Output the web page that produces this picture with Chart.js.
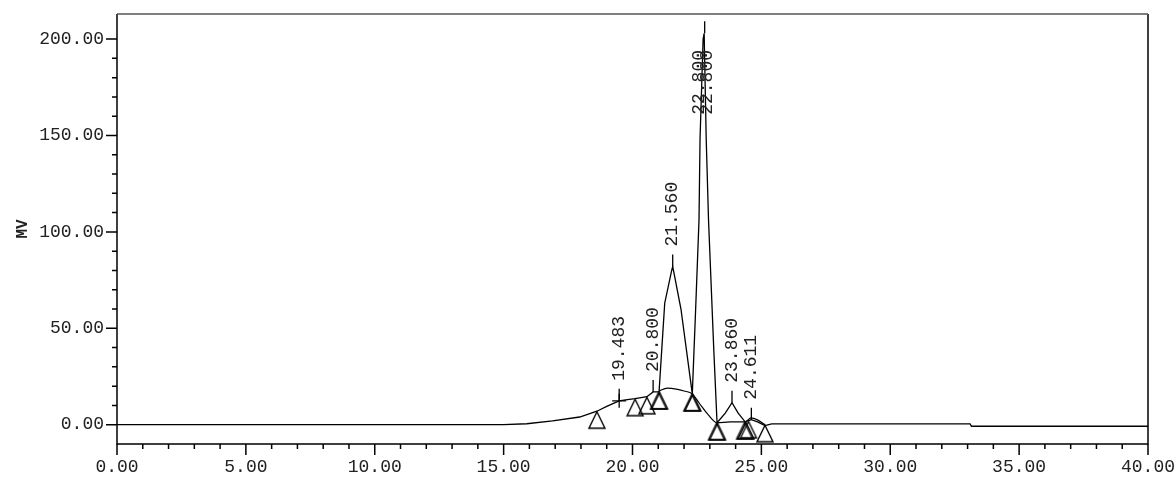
<!DOCTYPE html>
<html>
<head>
<meta charset="utf-8">
<script src="https://cdn.jsdelivr.net/npm/chart.js@4.4.0/dist/chart.umd.min.js"></script>
<style>
  html, body { margin: 0; padding: 0; background: #fff; }
  #wrap { width: 1176px; height: 477px; }
</style>
</head>
<body>
<div id="wrap"><canvas id="chromChart"></canvas></div>
<script>
  // detector trace, time in min, signal in mV
  const signalTime  = [0.00, 15.00, 15.90, 16.90, 17.95, 18.62, 19.00, 19.48, 19.80, 20.10, 20.56, 20.80, 21.03,
                       21.14, 21.25, 21.52, 21.56, 21.62, 21.88, 22.32, 22.45, 22.58, 22.62, 22.74, 22.78, 22.86,
                       22.95, 23.15, 23.28, 23.60, 23.86, 24.10, 24.37, 24.61, 24.85, 25.14, 25.40, 33.10, 33.15, 40.00];
  const signalValue = [0, 0, 0.5, 2.0, 4.0, 7.0, 9.5, 12.4, 13.0, 13.5, 14.5, 17.0, 17.0,
                       40, 63, 80, 82, 78, 60, 16, 60, 106, 148, 200, 203, 148,
                       106, 40, 1.0, 6.0, 11.4, 6.0, 1.5, 2.6, 1.5, -0.5, 0.4, 0.4, -0.8, -0.8];

  // baseline drawn under the merged peaks
  const baseTime  = [21.03, 21.35, 21.70, 22.00, 22.32, 22.60, 22.95, 23.28, 23.80, 24.37, 24.60, 24.85, 25.14];
  const baseValue = [17.5, 19.0, 18.5, 17.5, 16.0, 11.0, 5.0, 1.0, 1.5, 1.5, 3.5, 2.5, 0.0];

  // peak start / end marks
  const markTime  = [18.62, 20.10, 20.56, 21.01, 21.05, 22.30, 22.34, 23.26, 23.30, 24.35, 24.40, 24.50, 25.14];
  const markValue = [7.0, 13.5, 14.5, 17.0, 17.0, 16.0, 16.0, 1.0, 1.0, 1.5, 1.5, 2.0, 0.0];

  // labelled peaks
  const peakTime  = [19.483, 20.800, 21.560, 22.800, 23.860, 24.611];
  const peakValue = [12.4, 17.0, 82.0, 203.0, 11.4, 2.6];
  const peakLabel = ['19.483', '20.800', '21.560', '22.800', '23.860', '24.611'];

  const FONT = 'Liberation Mono';

  function toPoints(xs, ys) {
    return xs.map((t, i) => ({x: t, y: ys[i]}));
  }

  // triangle with its apex in the middle of the image, so the apex sits on the point
  const tri = document.createElement('canvas');
  tri.width = 20; tri.height = 40;
  const tctx = tri.getContext('2d');
  tctx.strokeStyle = '#000';
  tctx.lineWidth = 1.4;
  tctx.beginPath();
  tctx.moveTo(10, 20.5);
  tctx.lineTo(2, 37);
  tctx.lineTo(18, 37);
  tctx.closePath();
  tctx.stroke();

  const decor = {
    id: 'decor',
    afterDraw(chart) {
      const {ctx, chartArea: a, scales: {x, y}} = chart;
      ctx.save();
      ctx.strokeStyle = '#000';
      ctx.lineWidth = 1.5;

      // frame
      ctx.beginPath();
      ctx.moveTo(a.left, a.top); ctx.lineTo(a.left, a.bottom);
      ctx.lineTo(a.right, a.bottom); ctx.lineTo(a.right, a.top);
      ctx.stroke();
      ctx.strokeStyle = '#555';
      ctx.beginPath();
      ctx.moveTo(a.left, a.top); ctx.lineTo(a.right, a.top);
      ctx.stroke();

      // tick marks
      ctx.strokeStyle = '#000';
      ctx.beginPath();
      x.ticks.forEach(t => {
        const px = x.getPixelForValue(t.value);
        const len = t.value % 5 === 0 ? 11 : 5;
        ctx.moveTo(px, a.bottom); ctx.lineTo(px, a.bottom + len);
      });
      y.ticks.forEach(t => {
        if (t.value % 10 !== 0 || t.value < 0) return;
        const py = y.getPixelForValue(t.value);
        const len = t.value % 50 === 0 ? 11 : 5;
        ctx.moveTo(a.left, py); ctx.lineTo(a.left - len, py);
      });
      ctx.stroke();

      // peak marks and retention time labels
      ctx.fillStyle = '#222';
      ctx.font = '18px "' + FONT + '"';
      ctx.textBaseline = 'middle';
      ctx.textAlign = 'left';
      ctx.lineWidth = 1.3;
      peakTime.forEach((t, i) => {
        const px = x.getPixelForValue(t);
        const py = y.getPixelForValue(peakValue[i]);
        ctx.beginPath();
        ctx.moveTo(px, py); ctx.lineTo(px, py - 12);
        ctx.stroke();
        const w = ctx.measureText(peakLabel[i]).width;
        let start = py - 20;
        let ghost = false;
        if (start - w < a.top) { start = a.top + 36 + w; ghost = true; }
        const offs = ghost ? [-5, 3] : [0];
        offs.forEach(o => {
          ctx.save();
          ctx.translate(px + o, start);
          ctx.rotate(-Math.PI / 2);
          ctx.fillText(peakLabel[i], 0, 0);
          ctx.restore();
        });
      });
      ctx.restore();
    }
  };

  const chrom = document.getElementById('chromChart');
  const chromChart = new Chart(chrom, {
    type: 'line',
    data: {
      datasets: [{
        label: 'signal',
        data: toPoints(signalTime, signalValue),
        borderColor: '#000',
        borderWidth: 1.3,
        pointRadius: 0,
        tension: 0,
        order: 1
      }, {
        label: 'baseline',
        data: toPoints(baseTime, baseValue),
        borderColor: '#000',
        borderWidth: 1.2,
        pointRadius: 0,
        cubicInterpolationMode: 'monotone',
        order: 2
      }, {
        label: 'marks',
        data: toPoints(markTime, markValue),
        showLine: false,
        pointStyle: tri,
        pointRadius: 10,
        order: 3
      }, {
        label: 'cross',
        data: toPoints([peakTime[0]], [peakValue[0]]),
        showLine: false,
        pointStyle: 'cross',
        pointRadius: 7,
        borderColor: '#000',
        borderWidth: 1.3,
        order: 0
      }]
    },
    options: {
      responsive: true,
      maintainAspectRatio: false,
      animation: false,
      layout: { padding: { top: 14, right: 28, left: 0, bottom: 0 } },
      plugins: {
        legend: { display: false },
        tooltip: { enabled: false }
      },
      scales: {
        x: {
          type: 'linear',
          min: 0,
          max: 40,
          grid: { display: false, drawTicks: true, tickLength: 11 },
          border: { display: false },
          ticks: {
            stepSize: 1,
            autoSkip: false,
            maxRotation: 0,
            padding: 1,
            color: '#222',
            font: { family: FONT, size: 18 },
            callback: v => v % 5 === 0 ? v.toFixed(2) : ''
          },
          afterFit: s => { s.height = 33; s.paddingLeft = 0; s.paddingRight = 0; }
        },
        y: {
          min: -10,
          max: 213,
          grid: { display: false, drawTicks: true, tickLength: 11 },
          border: { display: false },
          ticks: {
            stepSize: 10,
            autoSkip: false,
            padding: 2,
            color: '#222',
            font: { family: FONT, size: 18 },
            callback: v => v % 50 === 0 ? v.toFixed(2) : ''
          },
          title: {
            display: true,
            text: 'MV',
            color: '#222',
            padding: { top: 13, bottom: 0 },
            font: { family: FONT, size: 16, weight: 'bold' }
          },
          afterFit: s => { s.width = 117; s.paddingTop = 0; s.paddingBottom = 0; }
        }
      }
    },
    plugins: [decor]
  });
</script>
</body>
</html>
